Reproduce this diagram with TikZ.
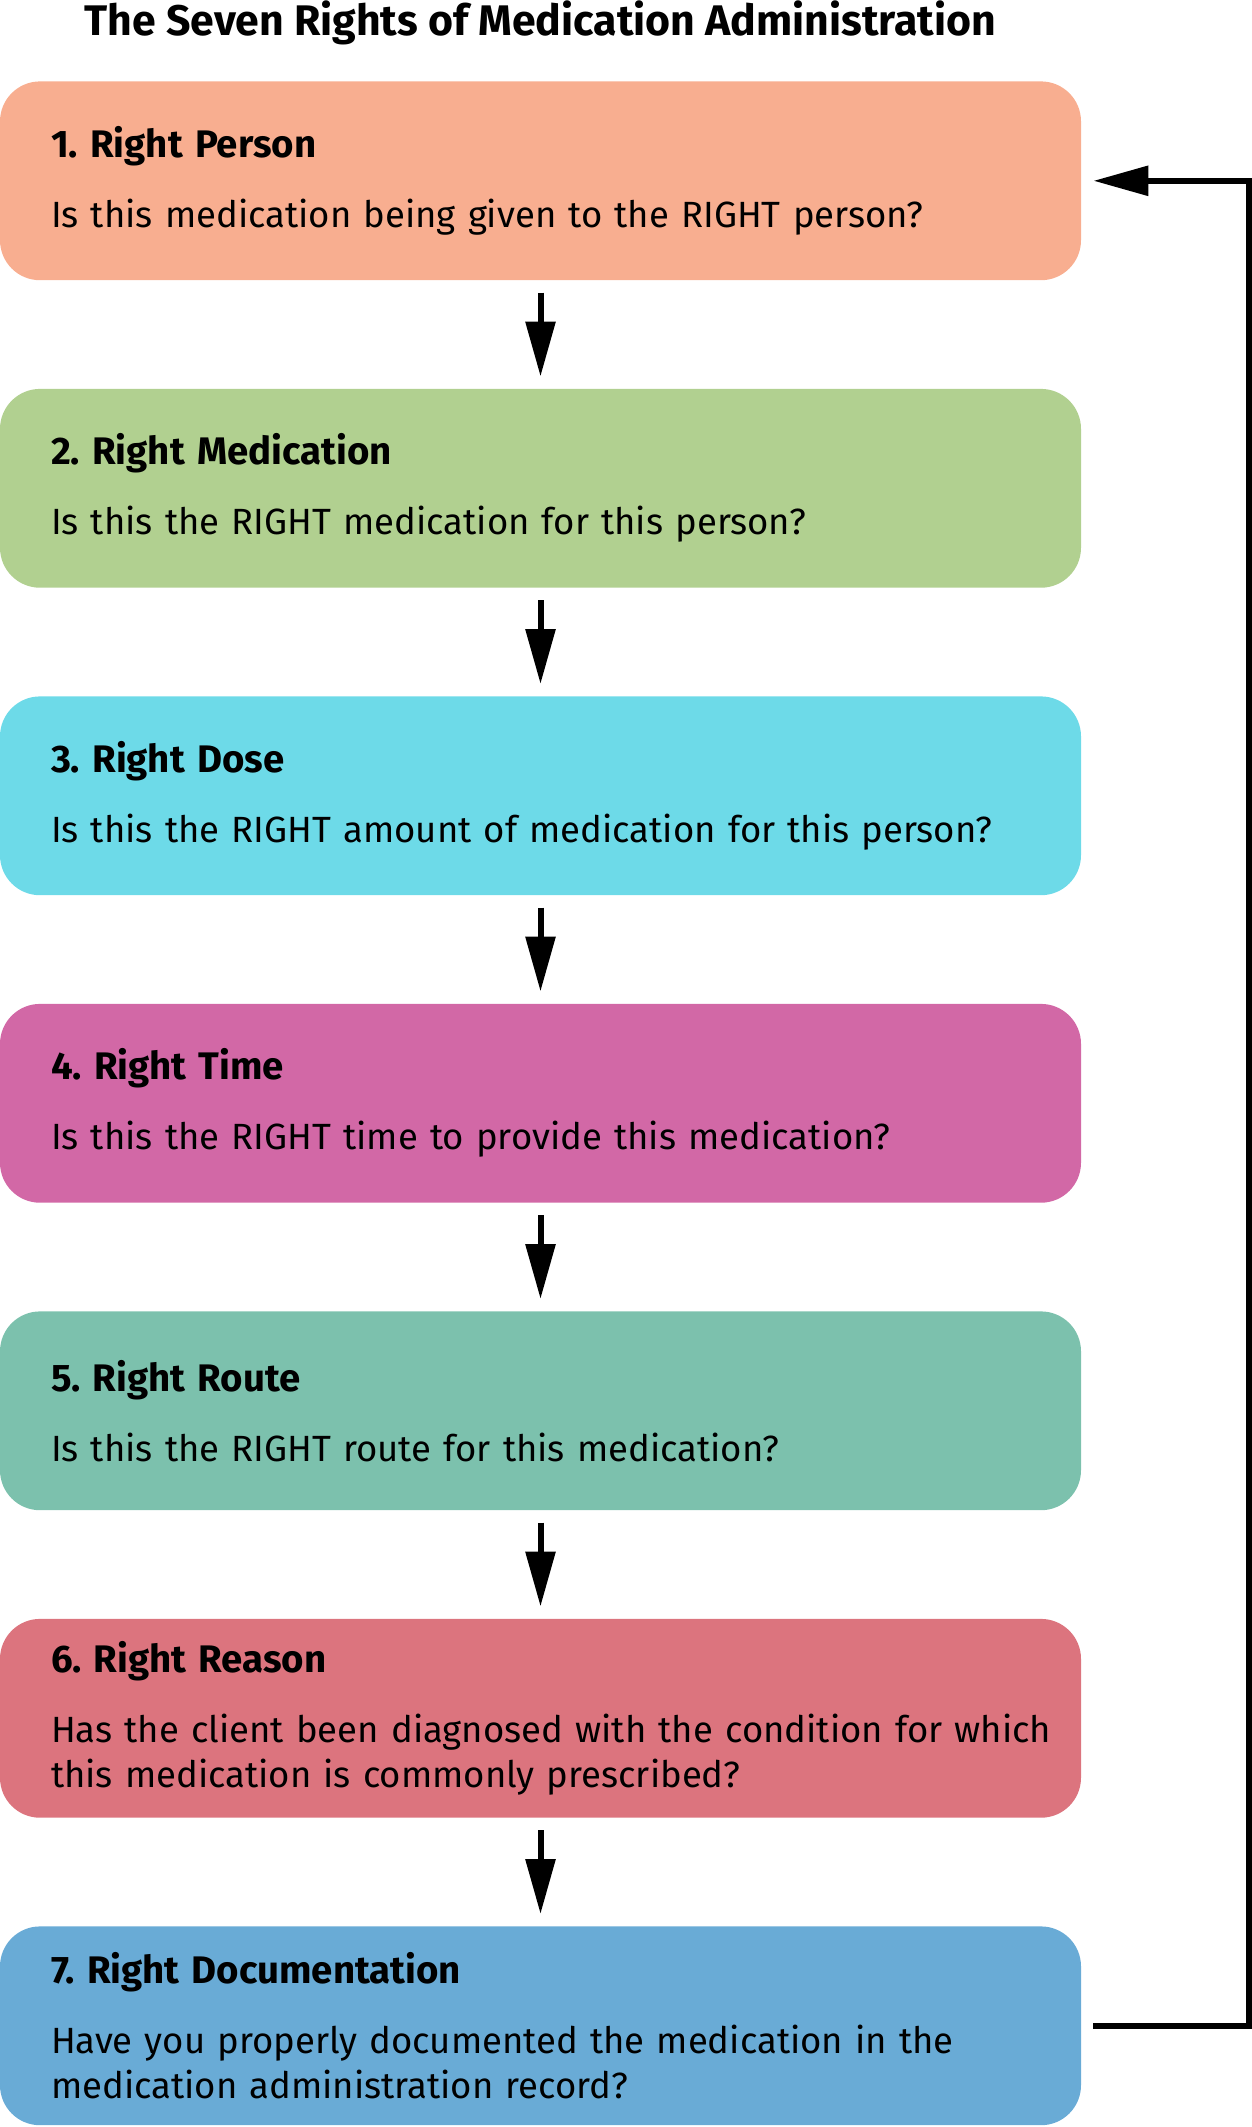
\documentclass[tikz,border=0pt]{standalone}
\usepackage{fontspec}
\setmainfont{Fira Sans}
\frenchspacing
\usetikzlibrary{arrows.meta}

\newcommand{\stephead}[1]{{\fontsize{19.2}{22.5}\selectfont\bfseries #1}}

\begin{document}
\begin{tikzpicture}[x=0.5pt,y=-0.5pt,
    rbox/.style={rounded corners=20pt, minimum width=540.5pt, minimum height=99.4pt,
        inner xsep=25.5pt, inner ysep=0pt, text width=489.5pt, align=left,
        font=\fontsize{18.25}{22.5}\selectfont},
    flow/.style={line width=3pt, -{Triangle[length=27.5pt,width=14.5pt]}}]
    \definecolor{cl1}{HTML}{F8AE90}
    \definecolor{cl2}{HTML}{B1D090}
    \definecolor{cl3}{HTML}{6DDAE8}
    \definecolor{cl4}{HTML}{D268A6}
    \definecolor{cl5}{HTML}{7CC1AD}
    \definecolor{cl6}{HTML}{DC747E}
    \definecolor{cl7}{HTML}{69ABD6}
    \useasboundingbox (0,0) rectangle (1252,2127);
    \node[anchor=base, font=\fontsize{21.4}{25}\selectfont\bfseries] (title) at (540.5,35)
        {The Seven Rights of Medication Administration};
    \node[rbox, fill=cl1] (r1) at (540.5, 180.8) {\stephead{1. Right Person}\\[12.5pt]
        Is this medication being given to the RIGHT person?};
    \node[rbox, fill=cl2] (r2) at (540.5, 488.3) {\stephead{2. Right Medication}\\[12.5pt]
        Is this the RIGHT medication for this person?};
    \node[rbox, fill=cl3] (r3) at (540.5, 795.8) {\stephead{3. Right Dose}\\[12.5pt]
        Is this the RIGHT amount of medication for this person?};
    \node[rbox, fill=cl4] (r4) at (540.5,1103.3) {\stephead{4. Right Time}\\[12.5pt]
        Is this the RIGHT time to provide this medication?};
    \node[rbox, fill=cl5] (r5) at (540.5,1410.8) {\stephead{5. Right Route}\\[12.5pt]
        Is this the RIGHT route for this medication?};
    \node[rbox, fill=cl6] (r6) at (540.5,1718.3) {\stephead{6. Right Reason}\\[12.5pt]
        \mbox{Has the client been diagnosed with the condition for which}\\
        this medication is commonly prescribed?};
    \node[rbox, fill=cl7] (r7) at (540.5,2025.8) {\stephead{7. Right Documentation}\\[12.5pt]
        Have you properly documented the medication in the\\
        medication administration record?};
    \foreach \a/\b in {r1/r2, r2/r3, r3/r4, r4/r5, r5/r6, r6/r7}
        \draw[flow, shorten <=6pt, shorten >=6pt] (\a) -- (\b);
    % back to the first step
    \draw[flow, line join=miter] ([xshift=6pt]r7.east) -| ([xshift=83.75pt]r1.east)
        -- ([xshift=6pt]r1.east);
\end{tikzpicture}
\end{document}
